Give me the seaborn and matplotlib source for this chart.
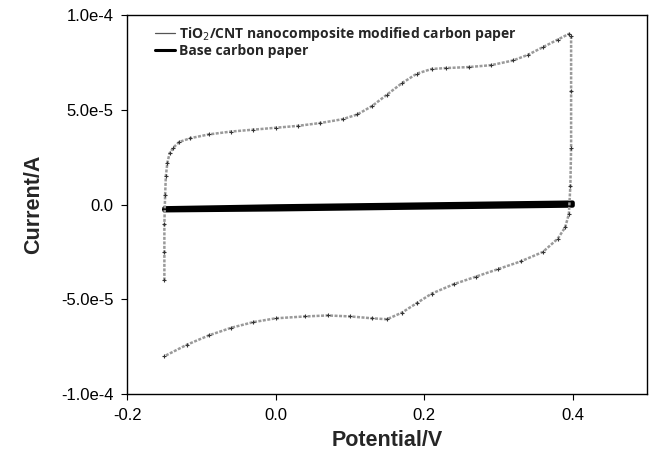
import numpy as np
import pandas as pd
import matplotlib
matplotlib.use('Agg')
import matplotlib.pyplot as plt
import seaborn as sns
from matplotlib.lines import Line2D

# ==================== 数据 ====================
# TiO2/CNT 修饰碳纸 CV 曲线（电位 V，电流 1e-5 A），按扫描顺序
tio2_potential = [-0.150, -0.150, -0.150, -0.149, -0.148, -0.146, -0.143, -0.138, -0.130,
                  -0.115, -0.090, -0.060, -0.030, 0.000, 0.030, 0.060, 0.090, 0.110,
                  0.130, 0.150, 0.170, 0.190, 0.210, 0.230, 0.260, 0.290, 0.320,
                  0.340, 0.360, 0.380, 0.395, 0.398, 0.398, 0.398, 0.397, 0.395,
                  0.390, 0.380, 0.360, 0.330, 0.300, 0.270, 0.240, 0.210, 0.190,
                  0.170, 0.150, 0.130, 0.100, 0.070, 0.040, 0.000, -0.030, -0.060,
                  -0.090, -0.120, -0.150]
tio2_current = [-4.0, -2.5, -1.0, 0.5, 1.5, 2.2, 2.7, 3.0, 3.3,
                3.5, 3.7, 3.85, 3.95, 4.05, 4.15, 4.3, 4.5, 4.75,
                5.2, 5.8, 6.4, 6.9, 7.15, 7.2, 7.25, 7.35, 7.6,
                7.9, 8.3, 8.7, 9.0, 8.9, 6.0, 3.0, 1.0, -0.5,
                -1.2, -1.8, -2.5, -3.0, -3.4, -3.8, -4.2, -4.7, -5.2,
                -5.7, -6.05, -6.0, -5.9, -5.85, -5.9, -6.0, -6.2, -6.5,
                -6.9, -7.4, -8.0]

# 基底碳纸（正扫 + 回扫）
base_potential = [-0.15, 0.0, 0.2, 0.4, 0.4, 0.2, 0.0, -0.15]
base_current = [-0.2, -0.1, 0.0, 0.1, -0.05, -0.15, -0.25, -0.3]

series_names = ['TiO$_2$/CNT nanocomposite modified carbon paper', 'Base carbon paper']

xtick_vals = [-0.2, 0.0, 0.2, 0.4]
xtick_labels = ['-0.2', '0.0', '0.2', '0.4']
ytick_vals = [-1e-4, -5e-5, 0.0, 5e-5, 1e-4]
ytick_labels = ['-1.0e-4', '-5.0e-5', '0.0', '5.0e-5', '1.0e-4']

# ==================== 画图 ====================
sns.set_style('ticks')
plt.rcParams['font.family'] = ['Liberation Sans', 'DejaVu Sans']

df_tio2 = pd.DataFrame({'E': tio2_potential, 'I': np.array(tio2_current) * 1e-5})
df_base = pd.DataFrame({'E': base_potential, 'I': np.array(base_current) * 1e-5})

fig = plt.figure(figsize=(6.56, 4.67), dpi=100)
ax = fig.add_axes([0.194, 0.156, 0.792, 0.812])

sns.lineplot(data=df_base, x='E', y='I', sort=False, estimator=None, ax=ax,
             color='black', linewidth=3.2)
sns.lineplot(data=df_tio2, x='E', y='I', sort=False, estimator=None, ax=ax,
             color='#9a9a9a', linewidth=1.8, linestyle=(0, (1.2, 0.6)),
             marker='+', markersize=3, markeredgecolor='#333333', markeredgewidth=0.8)

ax.set_xlim(-0.2, 0.5)
ax.set_ylim(-1e-4, 1e-4)
ax.set_xticks(xtick_vals)
ax.set_xticklabels(xtick_labels)
ax.set_yticks(ytick_vals)
ax.set_yticklabels(ytick_labels)
ax.tick_params(axis='both', direction='out', length=4, width=0.8, labelsize=12,
               colors='black', pad=6)

for s in ax.spines.values():
    s.set_visible(True)
    s.set_color('black')
    s.set_linewidth(1.0)

ax.set_xlabel('Potential/V', fontsize=15.5, fontweight='bold', labelpad=5)
ax.set_ylabel('Current/A', fontsize=15.5, fontweight='bold', labelpad=12)

handles = [Line2D([], [], color='#555555', linewidth=0.9),
           Line2D([], [], color='black', linewidth=2.2)]
ax.legend(handles, series_names, loc='upper left', frameon=False,
          prop={'family': ['Open Sans', 'DejaVu Sans'], 'weight': 'bold', 'size': 10},
          handlelength=1.4, handletextpad=0.3, labelspacing=0.1,
          borderaxespad=0.3, bbox_to_anchor=(0.035, 1.0))

plt.savefig('out.png', dpi=100)
plt.close()
